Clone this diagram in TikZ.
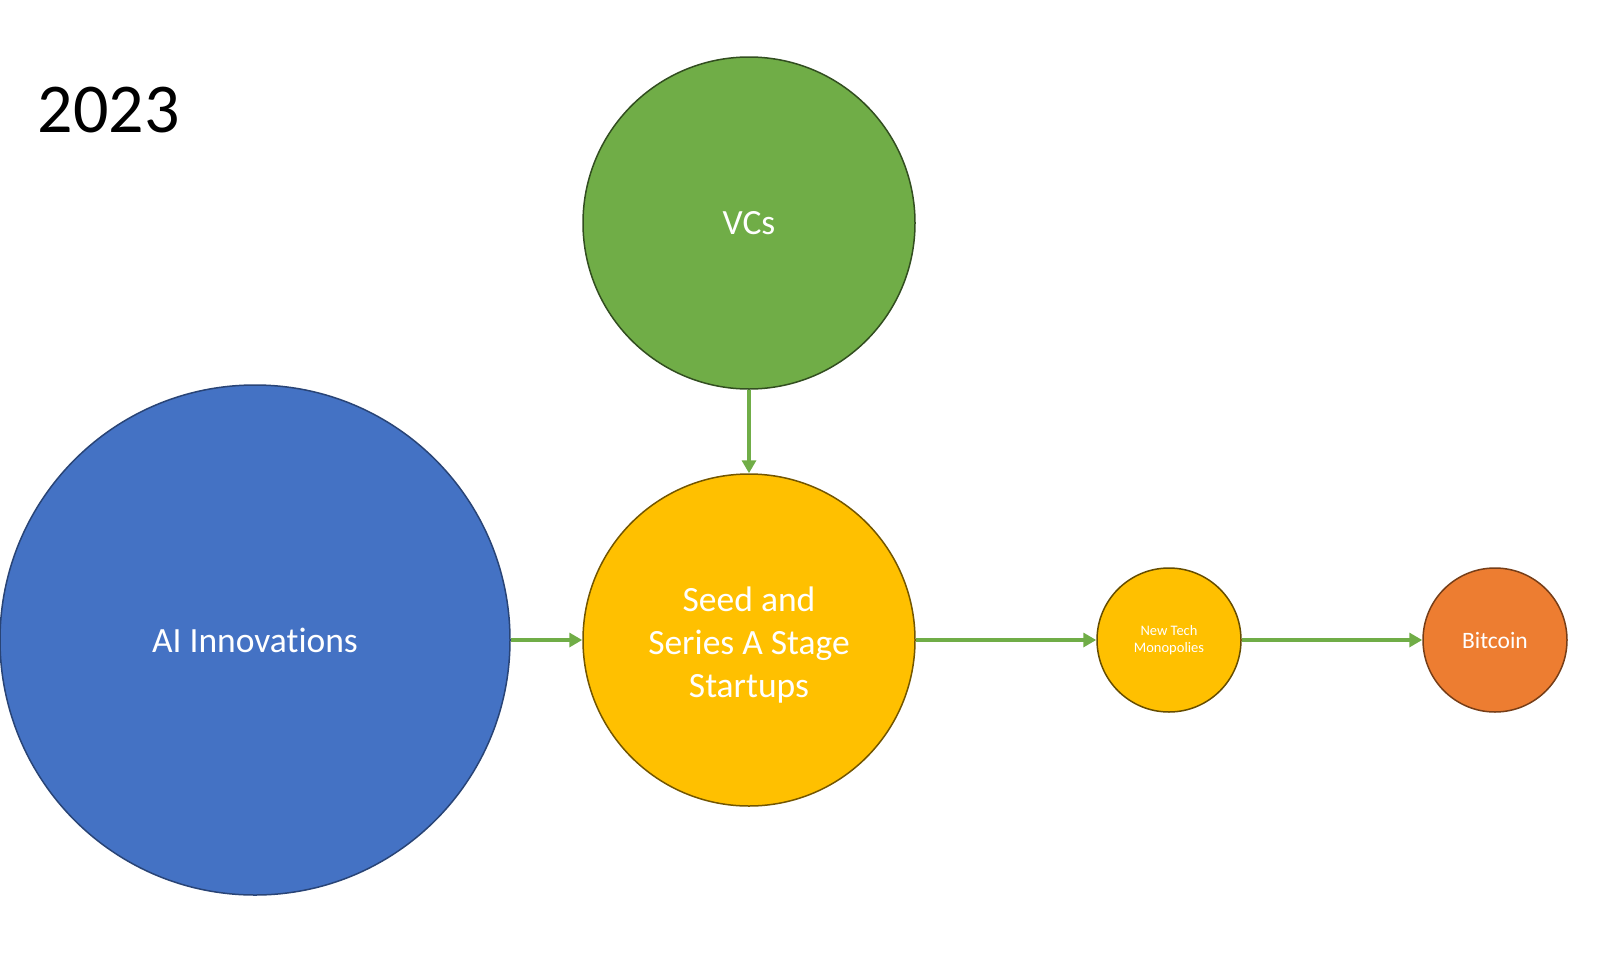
\documentclass[tikz,border=0pt]{standalone}
\usepackage{fontspec}
\setmainfont{Carlito}[Ligatures=NoCommon]
\usetikzlibrary{arrows.meta}
\definecolor{aiblue}{HTML}{4472C4}
\definecolor{vcgreen}{HTML}{70AD47}
\definecolor{seedgold}{HTML}{FFC000}
\definecolor{btcorange}{HTML}{ED7D31}
\begin{document}
\begin{tikzpicture}[x=1pt,y=-1pt,
  bubble/.style={circle,inner sep=0pt,line width=1.5pt,text=white,align=center,font=\fontsize{35.5}{43}\selectfont},
  flow/.style={draw=vcgreen,line width=3.5pt,-{Triangle[length=13pt,width=14pt]}}]
\useasboundingbox (0,0) rectangle (1604,956);
\node[anchor=base west,font=\fontsize{70}{80}\selectfont] (year) at (34,132) {2023};
\node[bubble,fill=aiblue,draw=aiblue!60!black,minimum size=510pt] (ai) at (255,640) {AI Innovations};
\node[bubble,fill=vcgreen,draw=vcgreen!45!black,minimum size=332pt] (vc) at (749,223) {VCs};
\node[bubble,fill=seedgold,draw=seedgold!45!black,minimum size=332pt] (seed) at (749,640) {\rule{0pt}{35pt}Seed and\\Series A Stage\\Startups};
\node[bubble,fill=seedgold,draw=seedgold!40!black,minimum size=144pt,font=\fontsize{14.5}{17}\selectfont] (mono) at (1169,640) {New Tech\\Monopolies};
\node[bubble,fill=btcorange,draw=btcorange!50!black,minimum size=144pt,font=\fontsize{23.5}{28}\selectfont] (btc) at (1495,640) {Bitcoin};
\draw[flow] (ai) -- (seed);
\draw[flow] (vc) -- (seed);
\draw[flow] (seed) -- (mono);
\draw[flow] (mono) -- (btc);
\end{tikzpicture}
\end{document}
